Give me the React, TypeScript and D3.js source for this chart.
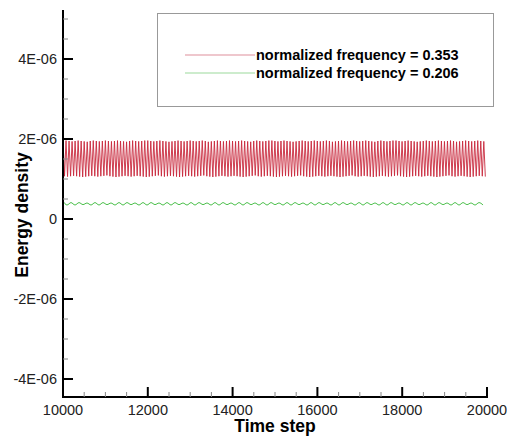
import React from "react";
import * as d3 from "d3";

// ---- data (values in units of 1E-06) ----
const xTicks = [10000, 12000, 14000, 16000, 18000, 20000];
const yTicks = [-4, -2, 0, 2, 4];
const yTickLabels = ["-4E-06", "-2E-06", "0", "2E-06", "4E-06"];
const legendLabels = ["normalized frequency = 0.353", "normalized frequency = 0.206"];

const redStart = 10000;
const redPeriod = 71.4;
const redPeaks = [
  1.95, 1.96, 1.95, 1.94, 1.95, 1.96, 1.95, 1.94, 1.93, 1.95,
  1.96, 1.95, 1.94, 1.95, 1.96, 1.95, 1.94, 1.95, 1.96, 1.95,
  1.94, 1.93, 1.95, 1.96, 1.95, 1.94, 1.95, 1.96, 1.96, 1.95,
  1.94, 1.95, 1.96, 1.95, 1.94, 1.93, 1.94, 1.95, 1.96, 1.95,
  1.94, 1.95, 1.96, 1.95, 1.94, 1.95, 1.96, 1.95, 1.93, 1.94,
  1.95, 1.96, 1.95, 1.94, 1.95, 1.96, 1.95, 1.94, 1.95, 1.96,
  1.95, 1.94, 1.93, 1.95, 1.96, 1.95, 1.94, 1.95, 1.96, 1.96,
  1.95, 1.94, 1.95, 1.96, 1.95, 1.94, 1.93, 1.94, 1.95, 1.96,
  1.95, 1.94, 1.95, 1.96, 1.95, 1.94, 1.95, 1.96, 1.95, 1.93,
  1.94, 1.95, 1.96, 1.95, 1.94, 1.95, 1.96, 1.95, 1.94, 1.95,
  1.96, 1.95, 1.94, 1.93, 1.95, 1.96, 1.95, 1.94, 1.95, 1.96,
  1.96, 1.95, 1.94, 1.95, 1.96, 1.95, 1.94, 1.93, 1.94, 1.95,
  1.96, 1.95, 1.94, 1.95, 1.96, 1.95, 1.94, 1.95, 1.96, 1.95,
  1.93, 1.94, 1.95, 1.96, 1.95, 1.94, 1.95, 1.96, 1.95, 1.94,
];
const redTroughs = [
  1.07, 1.06, 1.07, 1.08, 1.07, 1.06, 1.05, 1.06, 1.07, 1.08,
  1.07, 1.06, 1.07, 1.08, 1.09, 1.07, 1.06, 1.05, 1.06, 1.07,
  1.08, 1.07, 1.06, 1.07, 1.08, 1.07, 1.06, 1.05, 1.06, 1.07,
  1.08, 1.09, 1.07, 1.06, 1.07, 1.08, 1.07, 1.06, 1.05, 1.06,
  1.07, 1.08, 1.07, 1.06, 1.07, 1.08, 1.09, 1.07, 1.06, 1.05,
  1.06, 1.07, 1.08, 1.07, 1.06, 1.07, 1.08, 1.07, 1.06, 1.05,
  1.06, 1.07, 1.08, 1.09, 1.07, 1.06, 1.07, 1.08, 1.07, 1.06,
  1.05, 1.06, 1.07, 1.08, 1.07, 1.06, 1.07, 1.08, 1.09, 1.07,
  1.06, 1.05, 1.06, 1.07, 1.08, 1.07, 1.06, 1.07, 1.08, 1.07,
  1.06, 1.05, 1.06, 1.07, 1.08, 1.09, 1.07, 1.06, 1.07, 1.08,
  1.07, 1.06, 1.05, 1.06, 1.07, 1.08, 1.07, 1.06, 1.07, 1.08,
  1.09, 1.07, 1.06, 1.05, 1.06, 1.07, 1.08, 1.07, 1.06, 1.07,
  1.08, 1.07, 1.06, 1.05, 1.06, 1.07, 1.08, 1.09, 1.07, 1.06,
  1.07, 1.08, 1.07, 1.06, 1.05, 1.06, 1.07, 1.08, 1.07, 1.06,
];

const greenStart = 10000;
const greenPeriod = 188.7;
const greenPeaks = [
  0.45, 0.41, 0.41, 0.40, 0.41, 0.41, 0.40, 0.41, 0.41, 0.40,
  0.41, 0.41, 0.40, 0.41, 0.41, 0.40, 0.41, 0.41, 0.40, 0.41,
  0.41, 0.40, 0.41, 0.41, 0.40, 0.41, 0.41, 0.40, 0.41, 0.41,
  0.40, 0.41, 0.41, 0.40, 0.41, 0.41, 0.40, 0.41, 0.41, 0.40,
  0.41, 0.41, 0.40, 0.41, 0.41, 0.40, 0.41, 0.41, 0.40, 0.41,
  0.41, 0.40, 0.41,
];
const greenTroughs = [
  0.35, 0.35, 0.36, 0.35, 0.35, 0.36, 0.35, 0.35, 0.36, 0.35,
  0.35, 0.36, 0.35, 0.35, 0.36, 0.35, 0.35, 0.36, 0.35, 0.35,
  0.36, 0.35, 0.35, 0.36, 0.35, 0.35, 0.36, 0.35, 0.35, 0.36,
  0.35, 0.35, 0.36, 0.35, 0.35, 0.36, 0.35, 0.35, 0.36, 0.35,
  0.35, 0.36, 0.35, 0.35, 0.36, 0.35, 0.35, 0.36, 0.35, 0.35,
  0.36, 0.35, 0.35,
];

type Pt = [number, number];
function extremes(start: number, period: number, peaks: number[], troughs: number[]): Pt[] {
  const pts: Pt[] = [];
  peaks.forEach((p, i) => {
    pts.push([start + i * period, p]);
    if (troughs[i] !== undefined) pts.push([start + (i + 0.5) * period, troughs[i]]);
  });
  return pts;
}

const W = 507;
const H = 437;
const font = "'Liberation Sans', Arial, Helvetica, sans-serif";

export default function App() {
  const x = d3.scaleLinear().domain([10000, 20000]).range([63, 487]);
  const y = d3.scaleLinear().domain([0, 4]).range([219, 59]);
  const yTop = 10;
  const yBottom = 397;

  const redPts = extremes(redStart, redPeriod, redPeaks, redTroughs);
  const greenPts = extremes(greenStart, greenPeriod, greenPeaks, greenTroughs);
  const redLine = d3.line<Pt>().x((d) => x(d[0])).y((d) => y(d[1]));
  const greenLine = d3
    .line<Pt>()
    .x((d) => x(d[0]))
    .y((d) => y(d[1]))
    .curve(d3.curveMonotoneX);

  const xMinor = d3.range(10000, 20001, 500).filter((v) => v % 2000 !== 0);
  const yMinor = d3
    .range(-4, 5.3, 0.5)
    .filter((v) => Math.abs(v % 2) > 1e-9 && y(v) >= yTop && y(v) <= yBottom);

  return (
    <svg
      width={W}
      height={H}
      style={{ position: "absolute", left: 0, top: 0, background: "#fff" }}
      fontFamily={font}
    >
      <rect width={W} height={H} fill="#fff" />
      {/* data */}
      <path d={redLine(redPts) || ""} fill="none" stroke="#c8283c" strokeWidth={0.9} />
      <path d={greenLine(greenPts) || ""} fill="none" stroke="#4cc04c" strokeWidth={1} />

      {/* axes */}
      <line x1={63} x2={63} y1={yTop} y2={yBottom + 1} stroke="#000" strokeWidth={2} />
      <line x1={62} x2={x(20000) + 1} y1={yBottom} y2={yBottom} stroke="#000" strokeWidth={2} />
      {yTicks.map((v, i) => (
        <g key={"yt" + v}>
          <line x1={63} x2={73} y1={y(v)} y2={y(v)} stroke="#000" strokeWidth={2} />
          <text x={57} y={y(v) + 5} textAnchor="end" fontSize={14.5} fill="#222">
            {yTickLabels[i]}
          </text>
        </g>
      ))}
      {yMinor.map((v) => (
        <line key={"ym" + v} x1={63} x2={68} y1={y(v)} y2={y(v)} stroke="#888" strokeWidth={1} />
      ))}
      {xTicks.map((v) => (
        <g key={"xt" + v}>
          <line x1={x(v)} x2={x(v)} y1={yBottom} y2={yBottom - 10} stroke="#000" strokeWidth={2} />
          <text x={x(v)} y={415} textAnchor="middle" fontSize={14.5} fill="#222">
            {v}
          </text>
        </g>
      ))}
      {xMinor.map((v) => (
        <line key={"xm" + v} x1={x(v)} x2={x(v)} y1={yBottom} y2={yBottom - 5} stroke="#888" strokeWidth={1} />
      ))}

      {/* axis titles */}
      <text x={275} y={432} textAnchor="middle" fontSize={17.5} fontWeight="bold" fill="#000">
        Time step
      </text>
      <text
        transform={`translate(28,215) rotate(-90)`}
        textAnchor="middle"
        fontSize={17.5}
        fontWeight="bold"
        fill="#000"
      >
        Energy density
      </text>

      {/* legend */}
      <rect x={157.5} y={13.5} width={336} height={93} fill="#fff" stroke="#999" strokeWidth={1} />
      <line x1={185} x2={255} y1={55} y2={55} stroke="#d06070" strokeWidth={0.7} />
      <line x1={185} x2={255} y1={73} y2={73} stroke="#70c870" strokeWidth={0.7} />
      <text x={256} y={60} fontSize={14.5} fontWeight="bold" fill="#000">
        {legendLabels[0]}
      </text>
      <text x={256} y={78} fontSize={14.5} fontWeight="bold" fill="#000">
        {legendLabels[1]}
      </text>
    </svg>
  );
}
